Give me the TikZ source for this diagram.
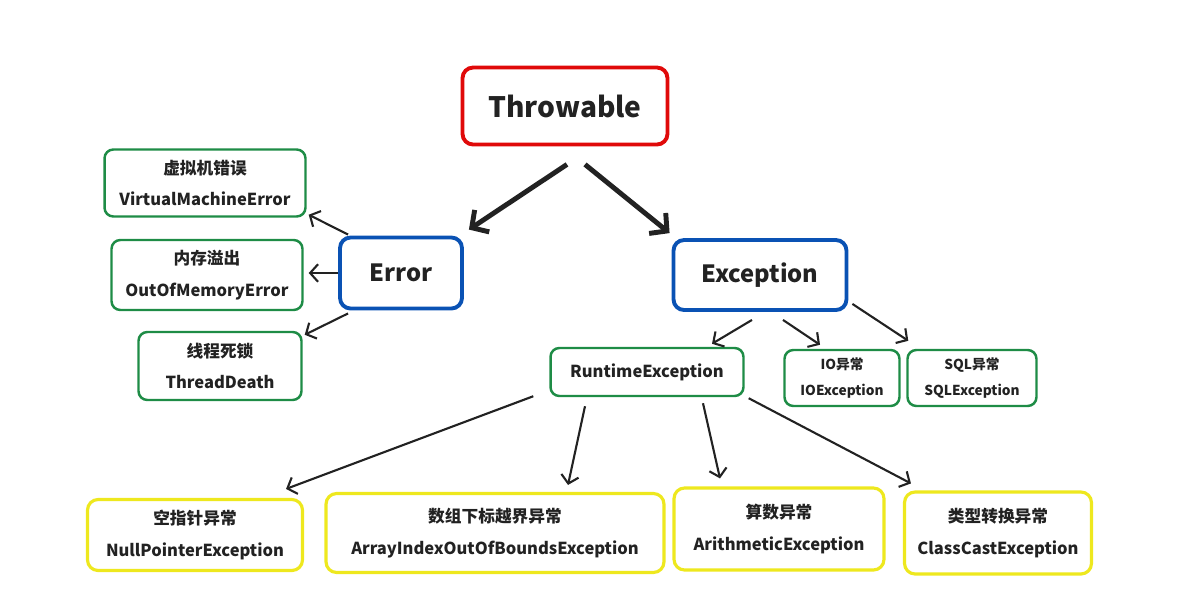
\documentclass[tikz,border=0pt]{standalone}
\usepackage{fontspec}
\setmainfont{Noto Sans CJK SC}
\usetikzlibrary{arrows.meta, positioning, calc}
\definecolor{thred}{HTML}{E00A0A}
\definecolor{thblue}{HTML}{0A52B4}
\definecolor{thgreen}{HTML}{1E8C46}
\definecolor{thyellow}{HTML}{EEE81E}
\definecolor{thtext}{HTML}{222222}
\newcommand{\cn}[1]{{\fontsize{9.5}{12}\selectfont #1}}

\begin{document}
\begin{tikzpicture}[x=0.02cm, y=-0.02cm,
  every node/.style={text=thtext, font=\bfseries},
  rootbox/.style={rectangle, draw=thred, line width=2.2pt, rounded corners=6pt, fill=white, font=\fontsize{16}{18}\selectfont\bfseries},
  mainbox/.style={rectangle, draw=thblue, line width=2.2pt, rounded corners=6pt, fill=white, font=\fontsize{13.5}{16}\selectfont\bfseries},
  leafbox/.style={rectangle, draw=thgreen, line width=1.4pt, rounded corners=5pt, fill=white, align=center, font=\fontsize{9.4}{18}\selectfont\bfseries},
  smallbox/.style={rectangle, draw=thgreen, line width=1.4pt, rounded corners=5pt, fill=white, align=center, font=\fontsize{7.8}{15}\selectfont\bfseries},
  runbox/.style={rectangle, draw=thyellow, line width=1.8pt, rounded corners=6pt, fill=white, align=center, font=\fontsize{9.4}{18}\selectfont\bfseries},
  bigarrow/.style={-{Straight Barb[length=7pt, width=15pt]}, line width=2.8pt, draw=thtext},
  subarrow/.style={-{Straight Barb[length=4.5pt, width=10pt]}, line width=1.2pt, draw=thtext},
]
\useasboundingbox (0,0) rectangle (1188,603);

% Root
\node[rootbox, minimum width=4.1cm, minimum height=1.54cm] (throw) at (565,106) {Throwable};

% Error branch
\node[mainbox, minimum width=2.44cm, minimum height=1.42cm] (err) at (401,273) {Error};
\node[leafbox, minimum width=4.02cm, minimum height=1.34cm] (vme) at (205,183) {\cn{虚拟机错误}\\VirtualMachineError};
\node[leafbox, minimum width=3.82cm, minimum height=1.4cm] (oom) at (207,275) {\cn{内存溢出}\\OutOfMemoryError};
\node[leafbox, minimum width=3.26cm, minimum height=1.36cm] (td) at (220,366) {\cn{线程死锁}\\ThreadDeath};

% Exception branch
\node[mainbox, minimum width=3.46cm, minimum height=1.4cm] (exc) at (760,275) {Exception};
\node[leafbox, minimum width=3.86cm, minimum height=0.96cm] (rt) at (647,372) {RuntimeException};
\node[smallbox, minimum width=2.3cm, minimum height=1.12cm] (io) at (842,378) {IO异常\\IOException};
\node[smallbox, minimum width=2.58cm, minimum height=1.12cm] (sql) at (972,378) {SQL异常\\SQLException};

% Runtime exceptions
\node[runbox, minimum width=4.3cm, minimum height=1.42cm] (np) at (195,535) {\cn{空指针异常}\\NullPointerException};
\node[runbox, minimum width=6.76cm, minimum height=1.58cm] (ai) at (495,533) {\cn{数组下标越界异常}\\ArrayIndexOutOfBoundsException};
\node[runbox, minimum width=4.2cm, minimum height=1.64cm] (ar) at (779,529) {\cn{算数异常}\\ArithmeticException};
\node[runbox, minimum width=3.74cm, minimum height=1.64cm] (cc) at (998,533) {\cn{类型转换异常}\\ClassCastException};

\draw[bigarrow] ($(throw.south)+(2,18)$) -- ($(err.north east)+(5,-6)$);
\draw[bigarrow] ($(throw.south)+(20,18)$) -- ($(exc.north west)+(-2,-5)$);

\draw[subarrow] ($(err.north west)+(10,-1)$) -- ($(vme.south east)+(2,-3)$);
\draw[subarrow] (err.west) -- ($(oom.east)+(5,-2)$);
\draw[subarrow] ($(err.south west)+(10,3)$) -- ($(td.north east)+(2,4)$);

\draw[subarrow] ($(exc.south)+(-8,8)$) -- ($(rt.north)+(65,-3)$);
\draw[subarrow] ($(exc.south)+(23,8)$) -- ($(io.north)+(-22,-4)$);
\draw[subarrow] ($(exc.south east)+(4,-8)$) -- ($(sql.north west)+(2,-8)$);

\draw[subarrow] ($(rt.south west)+(-16,-1)$) -- ($(np.north east)+(-18,-9)$);
\draw[subarrow] ($(rt.south)+(-62,9)$) -- ($(ai.north)+(73,-7)$);
\draw[subarrow] ($(rt.south)+(56,6)$) -- ($(ar.north)+(-59,-8)$);
\draw[subarrow] ($(rt.south east)+(4,1)$) -- ($(cc.north west)+(8,-7)$);

\end{tikzpicture}
\end{document}
